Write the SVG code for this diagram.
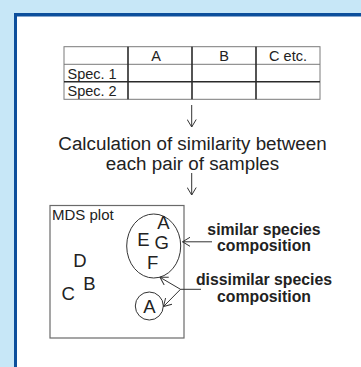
<svg xmlns="http://www.w3.org/2000/svg" width="361" height="367" viewBox="0 0 361 367">
  <defs>
    <style>
      .txt { font-family: "Liberation Sans", Arial, sans-serif; fill: #222; }
      .cell { font-size: 14.5px; }
      .pt { font-size: 18.5px; text-anchor: middle; }
      .lbl { font-size: 15.8px; font-weight: bold; text-anchor: middle; }
      .grid-thin { stroke: #7a7a7a; stroke-width: 1; fill: none; }
      .grid-bold { stroke: #2a2a2a; stroke-width: 1.6; fill: none; }
      .line { stroke: #333; stroke-width: 1; fill: none; }
    </style>
    <marker id="open" viewBox="0 0 10 10" refX="9.5" refY="5" markerWidth="10" markerHeight="10" markerUnits="userSpaceOnUse" orient="auto">
      <path d="M2,0.5 L9.5,5 L2,9.5" fill="none" stroke="#333" stroke-width="1"/>
    </marker>
  </defs>

  <!-- page background and framed panel -->
  <rect x="0" y="0" width="361" height="367" fill="#c7e7f7"/>
  <rect x="14" y="13" width="347" height="354" fill="#0c4f9c"/>
  <rect x="17" y="16.5" width="344" height="350.5" fill="#ffffff"/>

  <!-- species x sample table -->
  <g id="table">
    <rect class="grid-thin" x="64" y="46.7" width="256" height="52.6"/>
    <line class="grid-thin" x1="64" y1="64.3" x2="320" y2="64.3"/>
    <line class="grid-bold" x1="64" y1="81.8" x2="320" y2="81.8"/>
    <line class="grid-bold" x1="128" y1="46.7" x2="128" y2="99.3"/>
    <line class="grid-bold" x1="192" y1="46.7" x2="192" y2="99.3"/>
    <line class="grid-bold" x1="256" y1="46.7" x2="256" y2="99.3"/>
    <text class="txt cell" x="156" y="60.7" text-anchor="middle">A</text>
    <text class="txt cell" x="224" y="60.7" text-anchor="middle">B</text>
    <text class="txt cell" x="288" y="60.7" text-anchor="middle">C etc.</text>
    <text class="txt cell" x="67.5" y="79.3">Spec. 1</text>
    <text class="txt cell" x="67.5" y="95.5">Spec. 2</text>
  </g>

  <!-- processing step -->
  <g id="calc">
    <text class="txt" font-size="18.8" text-anchor="middle" x="192.5" y="150">Calculation of similarity between</text>
    <text class="txt" font-size="18.8" text-anchor="middle" x="192.5" y="169.5">each pair of samples</text>
  </g>

  <!-- ordination plot -->
  <g id="mds">
    <rect x="50" y="205.5" width="134" height="132.5" fill="none" stroke="#6a6a6a" stroke-width="1.2"/>
    <text class="txt" font-size="15" x="52" y="219.5">MDS plot</text>
    <ellipse cx="153.7" cy="246" rx="27" ry="32" fill="none" stroke="#333" stroke-width="1"/>
    <text class="txt pt" x="163.3" y="228.5">A</text>
    <text class="txt pt" x="143.3" y="246">E</text>
    <text class="txt pt" x="161.7" y="248.5">G</text>
    <text class="txt pt" x="152.7" y="268.5">F</text>
    <text class="txt pt" x="80" y="267">D</text>
    <text class="txt pt" x="89.3" y="290">B</text>
    <text class="txt pt" x="68.3" y="299.5">C</text>
    <circle cx="149.3" cy="306" r="14" fill="none" stroke="#333" stroke-width="1"/>
    <text class="txt pt" x="149.3" y="312.5">A</text>
  </g>

  <g id="label-similar">
    <text class="txt lbl" x="264" y="235">similar species</text>
    <text class="txt lbl" x="264" y="251">composition</text>
  </g>

  <g id="label-dissimilar">
    <text class="txt lbl" x="264" y="284.5">dissimilar species</text>
    <text class="txt lbl" x="264" y="301.5">composition</text>
  </g>

  <!-- connectors -->
  <g id="connectors">
    <line class="line" x1="191.7" y1="105" x2="191.7" y2="127" marker-end="url(#open)"/>
    <line class="line" x1="191.7" y1="173" x2="191.7" y2="195" marker-end="url(#open)"/>
    <line class="line" x1="212" y1="241.8" x2="182.5" y2="241.8" marker-end="url(#open)"/>
    <polyline class="line" points="201,289.3 180.5,289.3 160,277.3" marker-end="url(#open)"/>
    <line class="line" x1="180.5" y1="289.3" x2="163.5" y2="306.5" marker-end="url(#open)"/>
  </g>
</svg>
